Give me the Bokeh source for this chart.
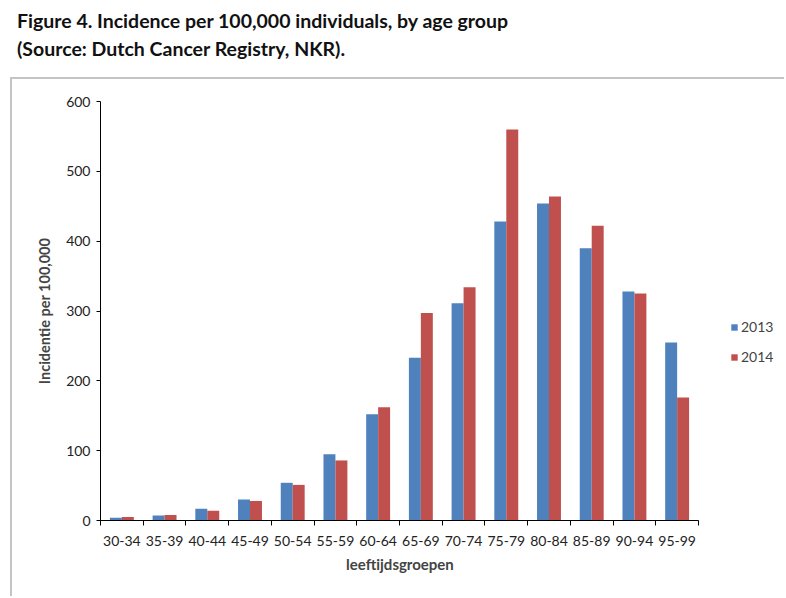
from bokeh.plotting import figure
from bokeh.layouts import column
from bokeh.models import (ColumnDataSource, FixedTicker, Legend, LegendItem,
                          Range1d, Div, Title)
from bokeh.embed import file_html
from bokeh.resources import INLINE

# Incidence per 100,000 by age group
age_groups = ["30-34", "35-39", "40-44", "45-49", "50-54", "55-59", "60-64",
              "65-69", "70-74", "75-79", "80-84", "85-89", "90-94", "95-99"]
inc_2013 = [4, 7, 17, 30, 54, 95, 152, 233, 311, 428, 454, 390, 328, 255]
inc_2014 = [5, 8, 14, 28, 51, 86, 162, 297, 334, 560, 464, 422, 325, 176]
y_ticks = [0, 100, 200, 300, 400, 500, 600]

title_lines = ["Figure 4. Incidence per 100,000 individuals, by age group",
               "(Source: Dutch Cancer Registry, NKR)."]

FONT = "Lato"
BORDER = "#c4c4c4"

n = len(age_groups)
centers = [i + 0.5 for i in range(n)]
bounds = list(range(n + 1))
bw = 0.28

# pixel layout of the chart box
FIG_W, FIG_H = 774, 519
LEFT, TOP, BOTTOM = 88, 22, 78
AXIS_PX = 598                      # length of the category axis
frame_px = FIG_W - LEFT            # plotting area reaches the right edge (room for legend)
x_end = n * frame_px / AXIS_PX
XLABEL_PX = 107                    # approx. rendered width of the x-axis title

src = ColumnDataSource(dict(
    x13=[c - bw / 2 for c in centers],
    x14=[c + bw / 2 for c in centers],
    y13=inc_2013,
    y14=inc_2014,
))

# heading above the chart box
heading = Div(
    text="<br>".join(title_lines),
    width=786, height=77, margin=(0, 0, 0, 0),
    styles={"font-family": FONT, "font-weight": "bold", "font-size": "19.5px",
            "line-height": "28px", "padding-left": "17px", "padding-top": "7px",
            "color": "#111111", "box-sizing": "border-box"},
)

p = figure(width=FIG_W, height=FIG_H, output_backend="svg", toolbar_location=None,
           x_range=Range1d(0, x_end), y_range=Range1d(0, 600),
           min_border_left=LEFT, min_border_right=0,
           min_border_top=TOP, min_border_bottom=BOTTOM)
p.margin = (0, 0, 0, 10)
p.styles = {"border-top": f"2px solid {BORDER}", "border-left": f"2px solid {BORDER}"}

r13 = p.vbar(x="x13", top="y13", width=bw, bottom=0, source=src,
             fill_color="#4F81BD", line_color=None)
r14 = p.vbar(x="x14", top="y14", width=bw, bottom=0, source=src,
             fill_color="#C0504D", line_color=None)

p.grid.visible = False
p.outline_line_color = None

# category axis: labels at group centers, tick marks between groups
xa = p.xaxis[0]
xa.bounds = (0, n)
xa.ticker = FixedTicker(ticks=centers, minor_ticks=bounds)
xa.major_label_overrides = {c: g for c, g in zip(centers, age_groups)}
xa.major_tick_line_color = None
xa.minor_tick_in = 0
xa.minor_tick_out = 5
xa.minor_tick_line_color = "black"
xa.axis_line_color = "black"
xa.major_label_text_font = FONT
xa.major_label_text_font_size = "14px"
xa.major_label_text_color = "#222222"
xa.major_label_standoff = 9

# axis title centred under the category axis
p.add_layout(Title(text="leeftijdsgroepen", align="left",
                   offset=(AXIS_PX - XLABEL_PX) / 2,
                   text_font=FONT, text_font_style="bold", text_font_size="15px",
                   standoff=9), "below")

ya = p.yaxis[0]
ya.ticker = FixedTicker(ticks=y_ticks, minor_ticks=[])
ya.major_tick_in = 0
ya.major_tick_out = 4
ya.major_tick_line_color = "black"
ya.axis_line_color = "black"
ya.major_label_text_font = FONT
ya.major_label_text_font_size = "14px"
ya.major_label_text_color = "#222222"
ya.major_label_standoff = 6
ya.axis_label = "Incidentie per 100,000"
ya.axis_label_text_font = FONT
ya.axis_label_text_font_style = "bold"
ya.axis_label_text_font_size = "14.5px"
ya.axis_label_standoff = 10

legend = Legend(items=[LegendItem(label="2013", renderers=[r13]),
                       LegendItem(label="2014", renderers=[r14])],
                location=(630, 155), border_line_color=None,
                background_fill_alpha=0, glyph_width=8, glyph_height=8,
                label_text_font=FONT, label_text_font_size="14px",
                spacing=13, label_standoff=3, margin=0, padding=10)
p.add_layout(legend)

page = column(heading, p, spacing=0)

open("out.html", "w").write(file_html(page, INLINE))
